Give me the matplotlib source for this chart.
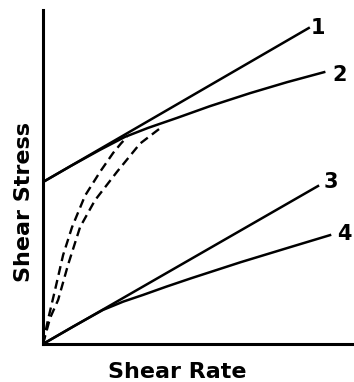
import matplotlib
matplotlib.use('Agg')
import matplotlib.pyplot as plt

# shear rate / shear stress, arbitrary units
x1 = [0, 8.6]
y1 = [4.85, 9.46]

x2 = [0, 0.9, 1.84, 2.65, 3.4, 4.34, 5.4, 6.7, 7.9, 9.1]
y2 = [4.85, 5.33, 5.81, 6.2, 6.47, 6.77, 7.12, 7.51, 7.84, 8.14]

x3 = [0, 8.9]
y3 = [0, 4.73]

x4 = [0, 0.97, 1.94, 2.6, 3.24, 4.0, 4.8, 6.4, 8.0, 9.29]
y4 = [0, 0.52, 1.02, 1.27, 1.47, 1.72, 1.97, 2.45, 2.9, 3.26]

# dashed curves rising from origin
xd1 = [0, 0.16, 0.39, 0.65, 0.94, 1.36, 1.85, 2.27, 2.52, 2.72]
yd1 = [0, 0.72, 1.62, 2.66, 3.5, 4.44, 5.16, 5.72, 6.0, 6.2]

xd2 = [0, 0.23, 0.49, 0.81, 1.2, 1.68, 2.39, 3.14, 3.72, 3.85]
yd2 = [0, 0.78, 1.32, 2.37, 3.5, 4.3, 5.15, 6.0, 6.41, 6.5]

labels = ['1', '2', '3', '4']
label_x = [8.9, 9.6, 9.3, 9.75]
label_y = [9.47, 8.06, 4.85, 3.29]

fig = plt.figure(figsize=(3.54, 3.82), dpi=100)
ax = fig.add_axes([43 / 354, 38 / 382, 309 / 354, 334 / 382])
ax.set_xlim(0, 10)
ax.set_ylim(0, 10)

lw = 1.8
ax.plot(x1, y1, color='black', lw=lw)
ax.plot(x2, y2, color='black', lw=lw)
ax.plot(x3, y3, color='black', lw=lw)
ax.plot(x4, y4, color='black', lw=lw)
ax.plot(xd1, yd1, color='black', lw=1.7, dashes=(3.8, 2.2))
ax.plot(xd2, yd2, color='black', lw=1.7, dashes=(3.8, 2.2))

for t, lx, ly in zip(labels, label_x, label_y):
    ax.text(lx, ly, t, fontsize=15, fontweight='bold', ha='center', va='center')

for s in ['top', 'right']:
    ax.spines[s].set_visible(False)
for s in ['left', 'bottom']:
    ax.spines[s].set_linewidth(2.2)
ax.set_xticks([])
ax.set_yticks([])

fig.text(177 / 354, 1 - 372 / 382, 'Shear Rate', fontsize=16, fontweight='bold',
         ha='center', va='center')
fig.text(24 / 354, 1 - 202 / 382, 'Shear Stress', fontsize=16, fontweight='bold',
         ha='center', va='center', rotation=90)

fig.savefig('out.png', dpi=100)
